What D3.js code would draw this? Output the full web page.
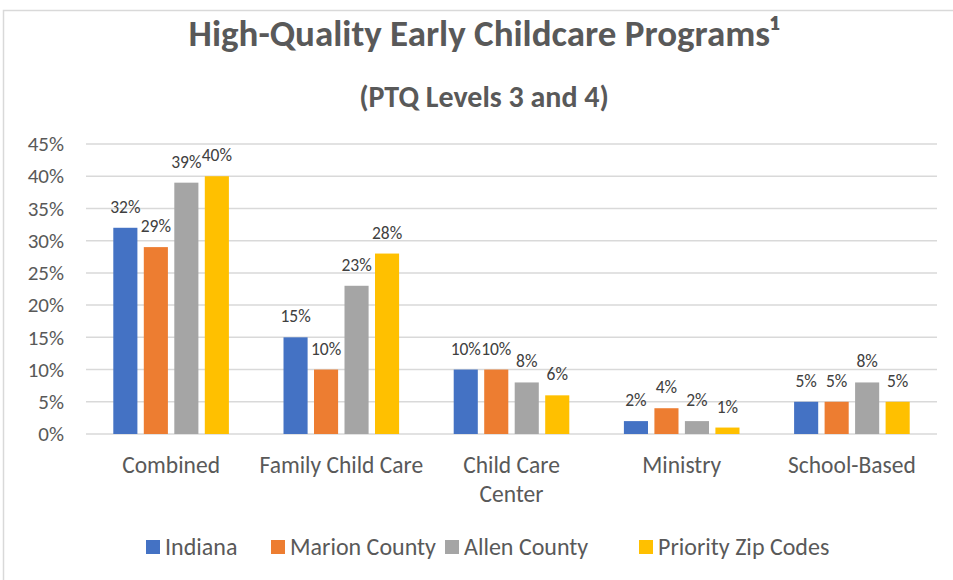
<!DOCTYPE html>
<html>
<head>
<meta charset="utf-8">
<script src="https://cdn.jsdelivr.net/npm/d3@7"></script>
<style>
  body { margin: 0; background: #fff; }
  text { font-family: Carlito, Calibri, Lato, sans-serif; }
</style>
</head>
<body>
<div id="chart"></div>
<script>
var categories = ["Combined", "Family Child Care", "Child Care Center", "Ministry", "School-Based"];
var series = ["Indiana", "Marion County", "Allen County", "Priority Zip Codes"];
var colors = ["#4472c4", "#ed7d31", "#a5a5a5", "#ffc000"];
// values in percent, one array per series
var indiana = [32, 15, 10, 2, 5];
var marion = [29, 10, 10, 4, 5];
var allen = [39, 23, 8, 2, 8];
var priority = [40, 28, 6, 1, 5];
var yTicks = [0, 5, 10, 15, 20, 25, 30, 35, 40, 45];

var values = [indiana, marion, allen, priority];
var width = 953, height = 580;

var svg = d3.select("#chart").append("svg")
  .attr("width", width)
  .attr("height", height);

// outer chart border
svg.append("rect")
  .attr("x", 3.5).attr("y", 10.5)
  .attr("width", 960).attr("height", 580)
  .attr("fill", "#fff")
  .attr("stroke", "#d9d9d9")
  .attr("stroke-width", 1.5);

var x0 = d3.scaleBand()
  .domain(categories)
  .range([86, 937]);

var groupW = 122;
var x1 = d3.scaleBand()
  .domain(series)
  .range([0, groupW])
  .paddingInner(0.21)
  .paddingOuter(0.105);

var y = d3.scaleLinear()
  .domain([0, 45])
  .range([434, 144]);

// gridlines
svg.append("g")
  .selectAll("line")
  .data(yTicks)
  .join("line")
    .attr("x1", 86).attr("x2", 937)
    .attr("y1", function(d) { return y(d); })
    .attr("y2", function(d) { return y(d); })
    .attr("stroke", "#d9d9d9")
    .attr("stroke-width", 1.5);

// y axis labels
var yAxis = d3.axisLeft(y)
  .tickValues(yTicks)
  .tickSize(0)
  .tickPadding(0)
  .tickFormat(function(d) { return d + "%"; });

svg.append("g")
  .attr("class", "y axis")
  .attr("transform", "translate(64,0)")
  .call(yAxis)
  .call(function(g) { g.select(".domain").remove(); })
  .selectAll("text")
    .attr("fill", "#595959")
    .style("font-size", "21px");

// bars
var groups = svg.append("g")
  .selectAll("g")
  .data(categories)
  .join("g")
    .attr("transform", function(d) {
      return "translate(" + (x0(d) + (x0.bandwidth() - groupW) / 2) + ",0)";
    });

groups.selectAll("rect")
  .data(function(d, i) {
    return series.map(function(s, j) { return {s: s, j: j, v: values[j][i]}; });
  })
  .join("rect")
    .attr("x", function(d) { return x1(d.s); })
    .attr("y", function(d) { return y(d.v); })
    .attr("width", x1.bandwidth())
    .attr("height", function(d) { return y(0) - y(d.v); })
    .attr("fill", function(d) { return colors[d.j]; });

groups.selectAll("text")
  .data(function(d, i) {
    return series.map(function(s, j) { return {s: s, j: j, v: values[j][i]}; });
  })
  .join("text")
    .attr("x", function(d) { return x1(d.s) + x1.bandwidth() / 2; })
    .attr("y", function(d) { return y(d.v) - 15; })
    .attr("text-anchor", "middle")
    .attr("fill", "#404040")
    .style("font-size", "17.5px")
    .text(function(d) { return d.v + "%"; });

// category labels
var catLines = {
  "Child Care Center": ["Child Care", "Center"]
};
var cats = svg.append("g")
  .selectAll("text")
  .data(categories)
  .join("text")
    .attr("x", function(d) { return x0(d) + x0.bandwidth() / 2; })
    .attr("y", 473)
    .attr("text-anchor", "middle")
    .attr("fill", "#595959")
    .style("font-size", "23.5px");

cats.selectAll("tspan")
  .data(function(d) { return catLines[d] || [d]; })
  .join("tspan")
    .attr("x", function() { return d3.select(this.parentNode).attr("x"); })
    .attr("dy", function(d, i) { return i === 0 ? 0 : 29; })
    .text(function(d) { return d; });

// titles
svg.append("text")
  .attr("x", 484).attr("y", 46)
  .attr("text-anchor", "middle")
  .attr("fill", "#595959")
  .style("font-size", "37px")
  .style("font-weight", "bold")
  .text("High-Quality Early Childcare Programs\u00b9");

svg.append("text")
  .attr("x", 484).attr("y", 107)
  .attr("text-anchor", "middle")
  .attr("fill", "#595959")
  .style("font-size", "30px")
  .style("font-weight", "bold")
  .text("(PTQ Levels 3 and 4)");

// legend
var legendX = [146, 271, 445, 639];
var legend = svg.append("g")
  .selectAll("g")
  .data(series)
  .join("g")
    .attr("transform", function(d, i) { return "translate(" + legendX[i] + ",540)"; });

legend.append("rect")
  .attr("width", 14).attr("height", 14)
  .attr("fill", function(d, i) { return colors[i]; });

legend.append("text")
  .attr("x", 19).attr("y", 15)
  .attr("fill", "#595959")
  .style("font-size", "24px")
  .text(function(d) { return d; });
</script>
</body>
</html>
